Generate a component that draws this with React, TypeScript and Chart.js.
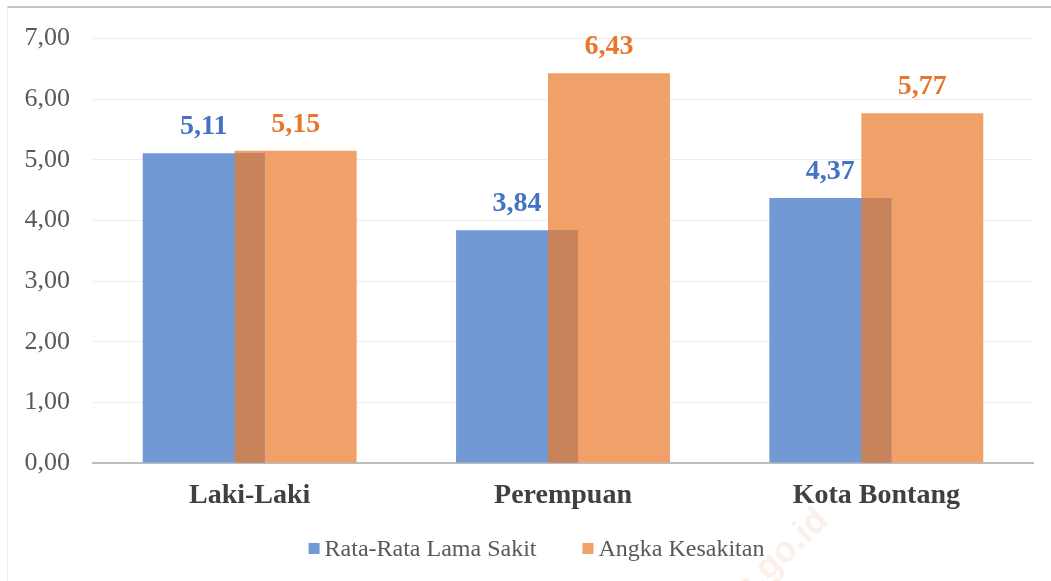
import { useEffect, useRef } from "react";
import { Chart, registerables } from "chart.js";

Chart.register(...registerables);

const categories = ["Laki-Laki", "Perempuan", "Kota Bontang"];
const rataRataLamaSakit = [5.11, 3.84, 4.37];
const angkaKesakitan = [5.15, 6.43, 5.77];
const seriesNames = ["Rata-Rata Lama Sakit", "Angka Kesakitan"];
const yMin = 0;
const yMax = 7;
const yStep = 1;
const watermarkText = "bontangkota.bps.go.id";

const SERIF = "'Liberation Serif', 'Times New Roman', serif";
const BLUE_BAR = "#7399D4";
const ORANGE_BAR = "#F1A06A";
const OVERLAP = "#C9835B";
const BLUE_LABEL = "#4472C4";
const ORANGE_LABEL = "#E8772E";

const fmt = (v: number) => Number(v).toFixed(2).replace(".", ",");

const overlapPlugin = {
  id: "overlapShade",
  afterDatasetsDraw(chart: any) {
    const m0 = chart.getDatasetMeta(0);
    const m1 = chart.getDatasetMeta(1);
    const ctx = chart.ctx;
    ctx.save();
    ctx.fillStyle = OVERLAP;
    m0.data.forEach((b0: any, i: number) => {
      const b1 = m1.data[i];
      if (!b1) return;
      const p0 = b0.getProps(["x", "y", "base", "width"], true);
      const p1 = b1.getProps(["x", "y", "base", "width"], true);
      const right0 = p0.x + p0.width / 2;
      const left1 = p1.x - p1.width / 2;
      if (right0 > left1) {
        const top = Math.max(p0.y, p1.y);
        ctx.fillRect(left1, top, right0 - left1, p0.base - top);
      }
    });
    ctx.restore();
  },
};

const labelPlugin = {
  id: "valueLabels",
  afterDatasetsDraw(chart: any) {
    const ctx = chart.ctx;
    const colors = [BLUE_LABEL, ORANGE_LABEL];
    ctx.save();
    ctx.font = `bold 28px ${SERIF}`;
    ctx.textAlign = "center";
    ctx.textBaseline = "alphabetic";
    chart.data.datasets.forEach((ds: any, di: number) => {
      const meta = chart.getDatasetMeta(di);
      ctx.fillStyle = colors[di];
      meta.data.forEach((bar: any, i: number) => {
        const p = bar.getProps(["x", "y"], true);
        ctx.fillText(fmt(ds.data[i]), p.x, p.y - 19);
      });
    });
    ctx.restore();
  },
};

// Legend drawn below the category labels, Excel-style (small square, tight text gap)
const legendPlugin = {
  id: "excelLegend",
  afterDraw(chart: any) {
    const ctx = chart.ctx;
    const box = 11;
    const textGap = 5;
    const itemGap = 46;
    ctx.save();
    ctx.font = `24px ${SERIF}`;
    const items = chart.data.datasets.map((ds: any) => ({
      text: ds.label as string,
      color: ds.backgroundColor as string,
      w: box + textGap + ctx.measureText(ds.label).width,
    }));
    const total = items.reduce((s: number, it: any) => s + it.w, 0) + itemGap * (items.length - 1);
    const centerX = chart.width / 2 + 11;
    const baseline = chart.chartArea.bottom + 93;
    let x = centerX - total / 2;
    ctx.textAlign = "left";
    ctx.textBaseline = "alphabetic";
    items.forEach((it: any) => {
      ctx.fillStyle = it.color;
      ctx.fillRect(x, baseline - 13, box, box);
      ctx.fillStyle = "#595959";
      ctx.fillText(it.text, x + box + textGap, baseline);
      x += it.w + itemGap;
    });
    ctx.restore();
  },
};

const watermarkPlugin = {
  id: "watermark",
  afterDraw(chart: any) {
    const ctx = chart.ctx;
    ctx.save();
    ctx.translate(830, 522);
    ctx.rotate((-44 * Math.PI) / 180);
    ctx.font = "bold 36px 'Liberation Sans', Arial, sans-serif";
    ctx.textAlign = "right";
    ctx.textBaseline = "alphabetic";
    ctx.fillStyle = "rgba(238, 160, 110, 0.16)";
    ctx.fillText(watermarkText, 0, 0);
    ctx.restore();
  },
};

export default function App() {
  const canvasRef = useRef<HTMLCanvasElement | null>(null);

  useEffect(() => {
    if (!canvasRef.current) return;
    const chart = new Chart(canvasRef.current, {
      type: "bar",
      data: {
        labels: categories,
        datasets: [
          {
            label: seriesNames[0],
            data: rataRataLamaSakit,
            backgroundColor: BLUE_BAR,
            borderWidth: 0,
            categoryPercentage: 0.587,
            barPercentage: 1.326,
          },
          {
            label: seriesNames[1],
            data: angkaKesakitan,
            backgroundColor: ORANGE_BAR,
            borderWidth: 0,
            categoryPercentage: 0.587,
            barPercentage: 1.326,
          },
        ],
      },
      options: {
        animation: false,
        responsive: true,
        maintainAspectRatio: false,
        devicePixelRatio: 1,
        layout: { padding: { left: 0, right: 18, top: 37, bottom: 66 } },
        plugins: {
          tooltip: { enabled: false },
          legend: { display: false },
        },
        scales: {
          x: {
            grid: { display: false, drawTicks: false },
            border: { display: true, color: "#BDBDBD", width: 2 },
            ticks: {
              padding: 16,
              color: "#404040",
              font: { family: SERIF, size: 28, weight: "bold" },
            },
            afterFit: (scale: any) => {
              scale.height = 52;
            },
          },
          y: {
            min: yMin,
            max: yMax,
            grid: { color: "#EDEDED", lineWidth: 1, drawTicks: false },
            border: { display: false },
            ticks: {
              stepSize: yStep,
              padding: 23,
              color: "#595959",
              font: { family: SERIF, size: 26 },
              callback: (v: any) => fmt(Number(v)),
            },
            afterFit: (scale: any) => {
              scale.width = 93;
            },
          },
        },
      } as any,
      plugins: [overlapPlugin, labelPlugin, legendPlugin, watermarkPlugin],
    });
    return () => chart.destroy();
  }, []);

  return (
    <div
      style={{
        position: "fixed",
        left: 0,
        top: 0,
        width: 1051,
        height: 581,
        background: "#ffffff",
        overflow: "hidden",
      }}
    >
      <div
        style={{
          position: "absolute",
          left: 7,
          top: 6,
          right: 0,
          bottom: 0,
          borderTop: "2px solid #C4C4C4",
          borderLeft: "1px solid #EFEFEF",
        }}
      />
      <div style={{ position: "absolute", left: 0, top: 0, width: 1051, height: 581 }}>
        <canvas ref={canvasRef} />
      </div>
    </div>
  );
}
